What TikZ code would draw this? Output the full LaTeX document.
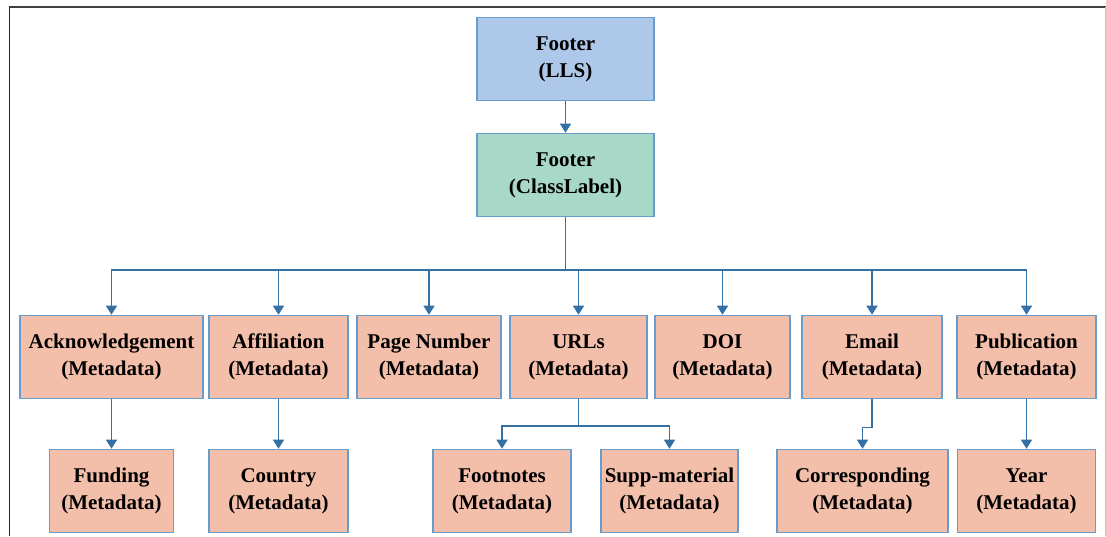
\documentclass[tikz,border=0pt]{standalone}
\usepackage{fontspec}
\setmainfont{Liberation Serif}
\usetikzlibrary{arrows.meta}
\definecolor{boxblue}{RGB}{174,200,234}
\definecolor{boxteal}{RGB}{168,216,200}
\definecolor{boxsalmon}{RGB}{244,191,170}
\definecolor{boxedge}{RGB}{104,156,204}
\definecolor{wire}{RGB}{52,112,164}
\tikzset{
  box/.style={draw=boxedge, line width=1.6pt, rectangle, align=center,
    minimum height=83pt, inner sep=2pt,
    font=\fontsize{21}{27}\selectfont\bfseries},
  meta/.style={box, fill=boxsalmon},
  wireline/.style={draw=wire, line width=1.4pt},
  arr/.style={wireline, -{Triangle[width=11pt,length=9pt]}}
}
\begin{document}
\begin{tikzpicture}[x=1pt,y=-1pt]
\useasboundingbox (0,0) rectangle (1106,536);
% frame
\draw[color=black!75, line width=2pt] (9,7) -- (1106,7);
\draw[color=black!85, line width=1.5pt] (9.5,6) -- (9.5,536);
\draw[color=black!22, line width=1pt] (1105,7) -- (1105,536);

% top levels
\node[box, fill=boxblue, minimum width=177pt] (lls) at (565.5,59) {Footer\\(LLS)};
\node[box, fill=boxteal, minimum width=177pt] (cls) at (565.5,175) {Footer\\(ClassLabel)};

% metadata row
\node[meta, minimum width=183pt] (ack)   at (111.5,357) {Acknowledgement\\(Metadata)};
\node[meta, minimum width=139pt] (aff)   at (278.5,357) {Affiliation\\(Metadata)};
\node[meta, minimum width=144pt] (page)  at (429,357)   {Page Number\\(Metadata)};
\node[meta, minimum width=137pt] (urls)  at (578.5,357) {URLs\\(Metadata)};
\node[meta, minimum width=135pt] (doi)   at (722.5,357) {DOI\\(Metadata)};
\node[meta, minimum width=140pt] (email) at (872,357)   {Email\\(Metadata)};
\node[meta, minimum width=139pt] (pub)   at (1026.5,357){Publication\\(Metadata)};

% sub-metadata row
\node[meta, minimum width=124pt] (fund)  at (111.5,491) {Funding\\(Metadata)};
\node[meta, minimum width=139pt] (ctry)  at (278.5,491) {Country\\(Metadata)};
\node[meta, minimum width=138pt] (foot)  at (502,491)   {Footnotes\\(Metadata)};
\node[meta, minimum width=137pt] (supp)  at (669.5,491) {Supp-material\\(Metadata)};
\node[meta, minimum width=171pt] (corr)  at (862.5,491) {Corresponding\\(Metadata)};
\node[meta, minimum width=138pt] (year)  at (1026.5,491){Year\\(Metadata)};

% connectors
\draw[arr] (lls) -- (cls);
\coordinate (bus) at (565.5,270);
\draw[wireline] (cls.south) -- (bus);
\foreach \n in {ack,aff,page,urls,doi,email,pub}
  \draw[arr] (bus) -| (\n.north);

\draw[arr] (ack) -- (fund);
\draw[arr] (aff) -- (ctry);
\coordinate (ubus) at (578.5,426);
\draw[wireline] (urls.south) -- (ubus);
\draw[arr] (ubus) -| (foot.north);
\draw[arr] (ubus) -| (supp.north);
\draw[arr] (email.south) -- ++(0,28) -| (corr.north);
\draw[arr] (pub) -- (year);
\end{tikzpicture}
\end{document}
